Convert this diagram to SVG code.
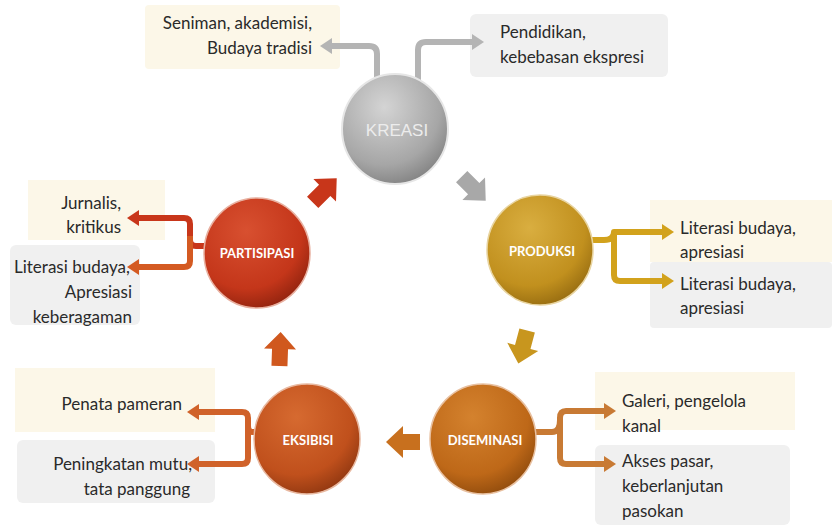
<svg xmlns="http://www.w3.org/2000/svg" width="832" height="529" viewBox="0 0 832 529">
<defs>
<style>
.lbl{font-family:Lato,"Liberation Sans",sans-serif;font-size:17px;fill:#2a2a2a}
.cl{font-family:Lato,"Liberation Sans",sans-serif;font-size:13px;font-weight:bold;fill:#ffffff;text-anchor:middle}
.cream{fill:#fcf7e8}
.grey{fill:#f0f0f0}
.con{fill:none;stroke-width:6;stroke-linejoin:round}
</style>
<radialGradient id="gGray" cx="0.4" cy="0.3" r="0.75">
<stop offset="0" stop-color="#d4d4d4"/><stop offset="0.7" stop-color="#a6a6a6"/><stop offset="1" stop-color="#808080"/>
</radialGradient>
<radialGradient id="gGold" cx="0.4" cy="0.3" r="0.75">
<stop offset="0" stop-color="#d9ae40"/><stop offset="0.7" stop-color="#c1901e"/><stop offset="1" stop-color="#946a10"/>
</radialGradient>
<radialGradient id="gDis" cx="0.4" cy="0.3" r="0.75">
<stop offset="0" stop-color="#d4822e"/><stop offset="0.7" stop-color="#be6818"/><stop offset="1" stop-color="#8e4a0c"/>
</radialGradient>
<radialGradient id="gEks" cx="0.4" cy="0.3" r="0.75">
<stop offset="0" stop-color="#d66a30"/><stop offset="0.7" stop-color="#c0501c"/><stop offset="1" stop-color="#8e3610"/>
</radialGradient>
<radialGradient id="gPar" cx="0.4" cy="0.3" r="0.75">
<stop offset="0" stop-color="#d85030"/><stop offset="0.7" stop-color="#c4361a"/><stop offset="1" stop-color="#8e220e"/>
</radialGradient>
<marker id="mGray" markerUnits="userSpaceOnUse" markerWidth="14" markerHeight="16" refX="2" refY="8" orient="auto"><path d="M0,0 L12,8 L0,16 Z" fill="#b4b4b4"/></marker>
<marker id="mGold" markerUnits="userSpaceOnUse" markerWidth="14" markerHeight="16" refX="2" refY="8" orient="auto"><path d="M0,0 L12,8 L0,16 Z" fill="#d2a21c"/></marker>
<marker id="mDis" markerUnits="userSpaceOnUse" markerWidth="14" markerHeight="16" refX="2" refY="8" orient="auto"><path d="M0,0 L12,8 L0,16 Z" fill="#c87a34"/></marker>
<marker id="mEks" markerUnits="userSpaceOnUse" markerWidth="14" markerHeight="16" refX="2" refY="8" orient="auto"><path d="M0,0 L12,8 L0,16 Z" fill="#d0622a"/></marker>
<marker id="mRed" markerUnits="userSpaceOnUse" markerWidth="14" markerHeight="16" refX="2" refY="8" orient="auto"><path d="M0,0 L12,8 L0,16 Z" fill="#c8361a"/></marker>
<marker id="mOr" markerUnits="userSpaceOnUse" markerWidth="14" markerHeight="16" refX="2" refY="8" orient="auto"><path d="M0,0 L12,8 L0,16 Z" fill="#d45a22"/></marker>
<path id="blk" d="M-16,-8 H1 V-16 L18,0 L1,16 V8 H-16 Z"/>
</defs>
<rect width="832" height="529" fill="#ffffff"/>

<!-- boxes -->
<g id="boxes">
<rect class="cream" x="145" y="5" width="195" height="64" rx="4"/>
<rect class="grey" x="470" y="14" width="198" height="63" rx="6"/>
<rect class="cream" x="650" y="200" width="182" height="62"/>
<rect class="grey" x="650" y="262" width="182" height="66" rx="4"/>
<rect class="cream" x="595" y="372" width="200" height="58"/>
<rect class="grey" x="595" y="445" width="195" height="80" rx="6"/>
<rect class="cream" x="15" y="368" width="200" height="64"/>
<rect class="grey" x="17" y="440" width="198" height="63" rx="6"/>
<rect class="cream" x="28" y="180" width="137" height="60"/>
<rect class="grey" x="10" y="245" width="130" height="80" rx="6"/>
</g>

<!-- labels -->
<g id="labels">
<text class="lbl" x="312" y="29" text-anchor="end">Seniman, akademisi,</text>
<text class="lbl" x="312" y="54" text-anchor="end">Budaya tradisi</text>
<text class="lbl" x="500" y="38">Pendidikan,</text>
<text class="lbl" x="500" y="63">kebebasan ekspresi</text>
<text class="lbl" x="680" y="234">Literasi budaya,</text>
<text class="lbl" x="680" y="258">apresiasi</text>
<text class="lbl" x="680" y="290">Literasi budaya,</text>
<text class="lbl" x="680" y="314">apresiasi</text>
<text class="lbl" x="622" y="407">Galeri, pengelola</text>
<text class="lbl" x="622" y="432">kanal</text>
<text class="lbl" x="622" y="467">Akses pasar,</text>
<text class="lbl" x="622" y="492">keberlanjutan</text>
<text class="lbl" x="622" y="517">pasokan</text>
<text class="lbl" x="182" y="410" text-anchor="end">Penata pameran</text>
<text class="lbl" x="192" y="470" text-anchor="end">Peningkatan mutu,</text>
<text class="lbl" x="190" y="495" text-anchor="end">tata panggung</text>
<text class="lbl" x="121" y="209" text-anchor="end">Jurnalis,</text>
<text class="lbl" x="121" y="233" text-anchor="end">kritikus</text>
<text class="lbl" x="14" y="273">Literasi budaya,</text>
<text class="lbl" x="132" y="298" text-anchor="end">Apresiasi</text>
<text class="lbl" x="132" y="323" text-anchor="end">keberagaman</text>
</g>

<!-- connectors -->
<g id="connectors">
<path class="con" stroke="#b4b4b4" d="M377,80 V54 Q377,46 369,46 H330" marker-end="url(#mGray)"/>
<path class="con" stroke="#b4b4b4" d="M418,80 V50 Q418,42 426,42 H474" marker-end="url(#mGray)"/>
<path class="con" stroke="#d2a21c" d="M590,240 H604 Q614,240 614,232 H664" marker-end="url(#mGold)"/>
<path class="con" stroke="#d2a21c" d="M614,232 V275 Q614,281 620,281 H664" marker-end="url(#mGold)"/>
<path class="con" stroke="#c87a34" d="M534,432 H552 Q560,432 560,420 V418 Q560,411 566,411 H606" marker-end="url(#mDis)"/>
<path class="con" stroke="#c87a34" d="M560,420 V458 Q560,464 566,464 H606" marker-end="url(#mDis)"/>
<path class="con" stroke="#d0622a" d="M258,432 H252 Q248,432 248,426 V418 Q248,412 242,412 H197" marker-end="url(#mEks)"/>
<path class="con" stroke="#d0622a" d="M248,420 V458 Q248,464 242,464 H197" marker-end="url(#mEks)"/>
<path class="con" stroke="#c8361a" d="M206,246 H196 Q190,246 190,240 V224 Q190,218 184,218 H137" marker-end="url(#mRed)"/>
<path class="con" stroke="#d45a22" d="M190,236 V261 Q190,267 184,267 H137" marker-end="url(#mOr)"/>
</g>

<!-- cycle arrows -->
<g id="cycle">
<use href="#blk" fill="#a8a8a8" transform="translate(473,188) rotate(45)"/>
<use href="#blk" fill="#c8961e" transform="translate(523,346) rotate(105)"/>
<use href="#blk" fill="#c8701e" transform="translate(404,442) rotate(180)"/>
<use href="#blk" fill="#d0581e" transform="translate(280,350) rotate(-88)"/>
<use href="#blk" fill="#c8361a" transform="translate(324,191) rotate(-45)"/>
</g>

<!-- nodes -->
<g id="kreasi">
<ellipse cx="395" cy="129" rx="53" ry="55" fill="url(#gGray)" stroke="#e6e6e6" stroke-width="2"/>
<text x="397" y="136" text-anchor="middle" font-family="'Liberation Sans',Arial,sans-serif" font-size="17" fill="#ececec">KREASI</text>
</g>
<g id="produksi">
<ellipse cx="540" cy="250" rx="53" ry="55" fill="url(#gGold)" stroke="#e8d4a0" stroke-width="1.5"/>
<text class="cl" x="542" y="256">PRODUKSI</text>
</g>
<g id="diseminasi">
<ellipse cx="483" cy="439" rx="53" ry="55" fill="url(#gDis)" stroke="#e8c0a0" stroke-width="1.5"/>
<text class="cl" x="485" y="445">DISEMINASI</text>
</g>
<g id="eksibisi">
<ellipse cx="307" cy="439" rx="53" ry="55" fill="url(#gEks)" stroke="#e8b8a0" stroke-width="1.5"/>
<text class="cl" x="308" y="445">EKSIBISI</text>
</g>
<g id="partisipasi">
<ellipse cx="257" cy="253" rx="53" ry="55" fill="url(#gPar)" stroke="#e8b0a0" stroke-width="1.5"/>
<text class="cl" x="257" y="258">PARTISIPASI</text>
</g>
</svg>
